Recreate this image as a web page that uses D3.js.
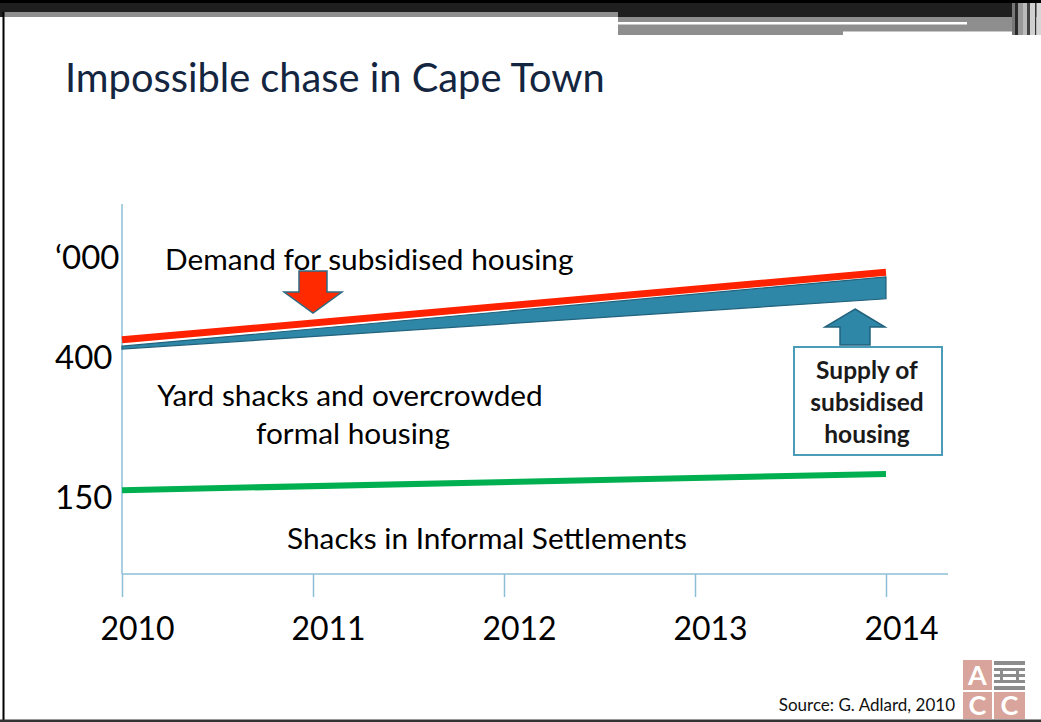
<!DOCTYPE html>
<html>
<head>
<meta charset="utf-8">
<script src="https://cdn.jsdelivr.net/npm/d3@7"></script>
<style>
  body { margin: 0; background: #fff; }
  svg { display: block; font-family: Lato, "Open Sans", sans-serif; }
</style>
</head>
<body>
<div id="chart"></div>
<script>
// endpoints ('000 units)
const years = [2010, 2011, 2012, 2013, 2014];
const lineYears = [2010, 2014];
const demand = [405, 522];
const supplyLow = [389, 476];
const supplyHigh = [394, 514];
const informal = [145, 173];

const yLabels = ["\u2018000", "400", "150"];
const yLabelPos = [547, 375, 133];

const W = 1041, H = 722;

const svg = d3.select('#chart').append('svg')
  .attr('width', W)
  .attr('height', H);

// slide decoration (top bar + frame)
const deco = svg.append('g');
deco.append('rect').attr('x', 0).attr('y', 0).attr('width', W).attr('height', 17).attr('fill', '#1f1f1f');
deco.append('rect').attr('x', 0).attr('y', 0).attr('width', W).attr('height', 3).attr('fill', '#000');
deco.append('rect').attr('x', 3).attr('y', 12).attr('width', 615).attr('height', 5).attr('fill', '#8e8e8e');
deco.append('rect').attr('x', 618).attr('y', 17).attr('width', 395).attr('height', 18).attr('fill', '#8e8e8e');
deco.append('rect').attr('x', 618).attr('y', 22).attr('width', 349).attr('height', 2.5).attr('fill', '#fff');
deco.append('rect').attr('x', 843).attr('y', 31.5).attr('width', 180).attr('height', 4).attr('fill', '#fff');
const stripes = [[1012, 3, '#777'], [1015, 3, '#2a2a2a'], [1018, 5, '#999'], [1023, 4, '#bbb'], [1027, 3, '#444'], [1030, 5, '#d0d0d0'], [1035, 1.5, '#333'], [1036.5, 5, '#d6d6d6']];
stripes.forEach(s => {
  deco.append('rect').attr('x', s[0]).attr('y', 3).attr('width', s[1]).attr('height', 32).attr('fill', s[2]);
});
deco.append('rect').attr('x', 2.5).attr('y', 12).attr('width', 2).attr('height', H - 12).attr('fill', '#000');
deco.append('rect').attr('x', 0).attr('y', 719.5).attr('width', W).attr('height', 2.5).attr('fill', '#333');

// title
svg.append('text')
  .attr('x', 65).attr('y', 92)
  .attr('font-size', 39.8)
  .attr('fill', '#14253f')
  .text('Impossible chase in Cape Town');

// scales
const x = d3.scaleLinear().domain([2010, 2014]).range([122, 886]);
const y = d3.scaleLinear().domain([0, 640]).range([574, 204]);

const axisColor = '#8dbfd6';

// y axis (line only)
svg.append('line')
  .attr('x1', x(2010)).attr('x2', x(2010))
  .attr('y1', y(640)).attr('y2', y(0))
  .attr('stroke', axisColor).attr('stroke-width', 1.5);

// x axis
const xAxis = svg.append('g')
  .attr('transform', `translate(0,${y(0)})`)
  .call(d3.axisBottom(x).tickValues(years).tickFormat(d3.format('d')).tickSize(23).tickPadding(20).tickSizeOuter(0));
xAxis.select('.domain').attr('stroke', axisColor).attr('stroke-width', 1.5).attr('d', `M${x(2010)},0H948`);
xAxis.selectAll('.tick line').attr('stroke', axisColor).attr('stroke-width', 1.5);
xAxis.selectAll('.tick text')
  .attr('font-size', 32).attr('fill', '#000')
  .attr('font-family', 'Lato, sans-serif')
  .attr('dx', 15);

// y labels
svg.selectAll('.ylab').data(yLabels).enter().append('text')
  .attr('class', 'ylab')
  .attr('x', 55)
  .attr('y', (d, i) => y(yLabelPos[i]))
  .attr('dy', '0.35em')
  .attr('font-size', 33)
  .text(d => d);

const pts = lineYears.map((yr, i) => ({ yr, demand: demand[i], lo: supplyLow[i], hi: supplyHigh[i], inf: informal[i] }));

// supply band
const band = d3.area().x(d => x(d.yr)).y0(d => y(d.lo)).y1(d => y(d.hi));
svg.append('path').datum(pts)
  .attr('d', band)
  .attr('fill', '#2f87a8')
  .attr('stroke', '#22627c').attr('stroke-width', 1.2);

// demand line
svg.append('path').datum(pts)
  .attr('d', d3.line().x(d => x(d.yr)).y(d => y(d.demand)))
  .attr('fill', 'none').attr('stroke', '#ff2200').attr('stroke-width', 7);

// informal settlements line
svg.append('path').datum(pts)
  .attr('d', d3.line().x(d => x(d.yr)).y(d => y(d.inf)))
  .attr('fill', 'none').attr('stroke', '#00b050').attr('stroke-width', 6);

// arrows
const downArrow = (cx, tipY) => {
  const p = d3.path();
  p.moveTo(cx - 14, tipY - 42); p.lineTo(cx + 14, tipY - 42); p.lineTo(cx + 14, tipY - 21);
  p.lineTo(cx + 29, tipY - 21); p.lineTo(cx, tipY); p.lineTo(cx - 29, tipY - 21);
  p.lineTo(cx - 14, tipY - 21); p.closePath();
  return p.toString();
};
const upArrow = (cx, tipY) => {
  const p = d3.path();
  p.moveTo(cx, tipY); p.lineTo(cx + 30, tipY + 18); p.lineTo(cx + 15, tipY + 18);
  p.lineTo(cx + 15, tipY + 36); p.lineTo(cx - 15, tipY + 36); p.lineTo(cx - 15, tipY + 18);
  p.lineTo(cx - 30, tipY + 18); p.closePath();
  return p.toString();
};
svg.append('path').attr('d', downArrow(313, 313))
  .attr('fill', '#ff2a00').attr('stroke', '#2f6b82').attr('stroke-width', 1.5);
svg.append('path').attr('d', upArrow(855, 309))
  .attr('fill', '#2f87a8').attr('stroke', '#22627c').attr('stroke-width', 1.5);

// annotations
svg.append('text').attr('x', 165).attr('y', 270).attr('font-size', 29.8).text('Demand for subsidised housing');
svg.append('text').attr('x', 350).attr('y', 406).attr('font-size', 29.8).attr('text-anchor', 'middle').text('Yard shacks and overcrowded');
svg.append('text').attr('x', 353).attr('y', 444).attr('font-size', 29.8).attr('text-anchor', 'middle').text('formal housing');
svg.append('text').attr('x', 487).attr('y', 549).attr('font-size', 29.8).attr('text-anchor', 'middle').text('Shacks in Informal Settlements');

// supply box
svg.append('rect').attr('x', 794).attr('y', 347).attr('width', 148).attr('height', 108)
  .attr('fill', '#fff').attr('stroke', '#4a9cb8').attr('stroke-width', 2);
['Supply of', 'subsidised', 'housing'].forEach((t, i) => {
  svg.append('text').attr('x', 867).attr('y', 379 + i * 32)
    .attr('text-anchor', 'middle').attr('font-size', 24.5).attr('font-weight', 'bold')
    .attr('fill', '#1a1a1a').text(t);
});

// source
svg.append('text').attr('x', 955).attr('y', 711).attr('text-anchor', 'end')
  .attr('font-size', 17).attr('fill', '#111').text('Source: G. Adlard, 2010');

// logo
const logo = svg.append('g');
const rose = '#d8a49b';
logo.append('rect').attr('x', 963).attr('y', 660).attr('width', 29).attr('height', 30).attr('fill', rose);
logo.append('rect').attr('x', 963).attr('y', 692).attr('width', 29).attr('height', 27).attr('fill', rose);
logo.append('rect').attr('x', 994).attr('y', 692).attr('width', 31).attr('height', 27).attr('fill', rose);
[['A', 977.5, 685], ['C', 977.5, 715], ['C', 1009.5, 715]].forEach(l => {
  logo.append('text').attr('x', l[1]).attr('y', l[2]).attr('text-anchor', 'middle')
    .attr('font-size', 27).attr('font-weight', 'bold').attr('fill', '#fff').text(l[0]);
});
const bars = [[994, 661, 31, 4], [994, 668, 31, 3], [994, 674, 31, 3], [994, 680, 31, 3], [994, 686, 31, 4]];
bars.forEach(b => logo.append('rect').attr('x', b[0]).attr('y', b[1]).attr('width', b[2]).attr('height', b[3]).attr('fill', '#8c8c8c'));
logo.append('rect').attr('x', 1000).attr('y', 671).attr('width', 3).attr('height', 12).attr('fill', '#8c8c8c');
logo.append('rect').attr('x', 1016).attr('y', 671).attr('width', 3).attr('height', 12).attr('fill', '#8c8c8c');
</script>
</body>
</html>
